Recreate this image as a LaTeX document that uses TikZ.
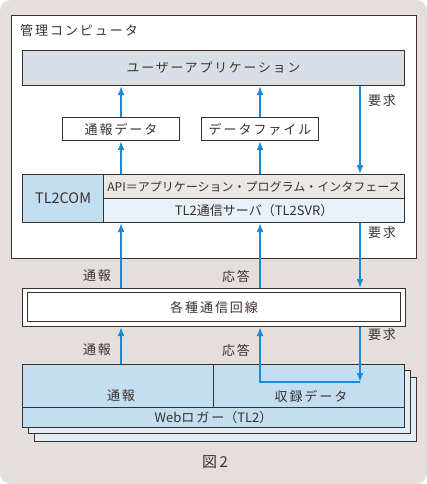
\documentclass[tikz,border=0pt]{standalone}
\usepackage{fontspec}
\setmainfont{Noto Sans CJK JP}
\newfontfamily\jpw[LetterSpace=15]{Noto Sans CJK JP}
\usetikzlibrary{arrows.meta}
\definecolor{bgc}{HTML}{E4DFDD}
\definecolor{ink}{HTML}{3B302C}
\definecolor{arrc}{HTML}{1A8BD2}
\definecolor{uappc}{HTML}{D8DEE6}
\definecolor{lbluec}{HTML}{C3DDF1}
\definecolor{apic}{HTML}{EAE7E5}
\definecolor{svrc}{HTML}{E7F1F9}
\definecolor{sheetc}{HTML}{E2EEF7}
\tikzset{
  box/.style={draw=ink, line width=1.1pt, inner sep=0pt, anchor=north west, text=ink},
  lbl/.style={text=ink, font=\jpw\fontsize{13}{15}\selectfont, inner sep=0pt},
  arr/.style={draw=arrc, line width=1.6pt, -{Latex[length=9pt,width=7pt]}},
}
\begin{document}
\begin{tikzpicture}[x=1pt,y=-1pt]
\useasboundingbox (0,0) rectangle (427,484);
\fill[bgc, rounded corners=11pt] (0,0) rectangle (427,484);
% management computer
\node[box, fill=white, minimum width=405pt, minimum height=243pt] (mgmt) at (11,15) {};
\node[lbl, anchor=west] (mgmtlbl) at (20,31) {管理コンピュータ};
\node[box, fill=uappc, minimum width=382pt, minimum height=35pt, font=\jpw\fontsize{12.8}{14}\selectfont] (uapp) at (22,50) {ユーザーアプリケーション};
\node[box, fill=white, minimum width=117pt, minimum height=23pt, font=\jpw\fontsize{13}{14}\selectfont] (tsuho) at (62,117) {通報データ};
\node[box, fill=white, minimum width=117pt, minimum height=23pt, font=\jpw\fontsize{13}{14}\selectfont] (dfile) at (201,117) {データファイル};
\node[box, fill=lbluec, minimum width=81pt, minimum height=48pt, font=\fontsize{14.5}{16}\selectfont] (tl2com) at (22,174) {TL2COM};
\node[box, fill=apic, minimum width=301pt, minimum height=24pt, font=\fontsize{12}{14}\selectfont] (api) at (103,174) {API＝アプリケーション・プログラム・インタフェース};
\node[box, fill=svrc, minimum width=301pt, minimum height=24pt, font=\fontsize{13}{14}\selectfont] (svr) at (103,198) {TL2通信サーバ（TL2SVR）};
\coordinate (cr) at (360,0);
\draw[arr] (tsuho.north) -- (tsuho.north |- uapp.south);
\draw[arr] (dfile.north) -- (dfile.north |- uapp.south);
\draw[arr] (tsuho.south |- api.north) -- (tsuho.south);
\draw[arr] (dfile.south |- api.north) -- (dfile.south);
\draw[arr] (uapp.south -| cr) -- (api.north -| cr);
\node[lbl] (req1) at (382,101) {要求};
% lines box
\node[box, fill=white, minimum width=383pt, minimum height=38pt] (linesout) at (22,288) {};
\node[box, fill=white, minimum width=373pt, minimum height=29pt, font=\jpw\fontsize{13}{14}\selectfont] (lines) at (27,292) {各種通信回線};
\draw[arr] (tsuho.south |- linesout.north) -- (tsuho.south |- svr.south);
\draw[arr] (dfile.south |- linesout.north) -- (dfile.south |- svr.south);
\draw[arr] (svr.south -| cr) -- (linesout.north -| cr);
\node[lbl] (l1) at (97,276) {通報};
\node[lbl] (l2) at (236,276) {応答};
\node[lbl] (req2) at (382,233) {要求};
% logger
\node[box, line width=0.9pt, fill=sheetc, minimum width=382pt, minimum height=64pt] (sheet2) at (34,377) {};
\node[box, line width=0.9pt, fill=sheetc, minimum width=382pt, minimum height=63pt] (sheet1) at (28,370) {};
\node[box, fill=lbluec, minimum width=191pt, minimum height=43pt] (lgl) at (22,364) {};
\node[box, fill=lbluec, minimum width=191pt, minimum height=43pt] (lgr) at (213,364) {};
\node[box, fill=lbluec, minimum width=382pt, minimum height=20pt, font=\fontsize{13}{14}\selectfont] (web) at (22,407) {Web{\jpw ロガー}（TL2）};
\node[lbl] (t1) at (121,396) {通報};
\node[lbl] (t2) at (311,396) {収録データ};
\coordinate (turn) at (360,382);
\draw[arr] (tsuho.south |- lgl.north) -- (tsuho.south |- linesout.south);
\draw[arr] (linesout.south -| cr) -- (turn);
\draw[arr] (turn) -- (dfile.south |- turn) -- (dfile.south |- linesout.south);
\node[lbl] (l3) at (97,350) {通報};
\node[lbl] (l4) at (236,350) {応答};
\node[lbl] (req3) at (382,335) {要求};
\node[text=ink, font=\fontsize{15}{17}\selectfont, inner sep=0pt] (fig) at (215,462) {図\,2};
\end{tikzpicture}
\end{document}
